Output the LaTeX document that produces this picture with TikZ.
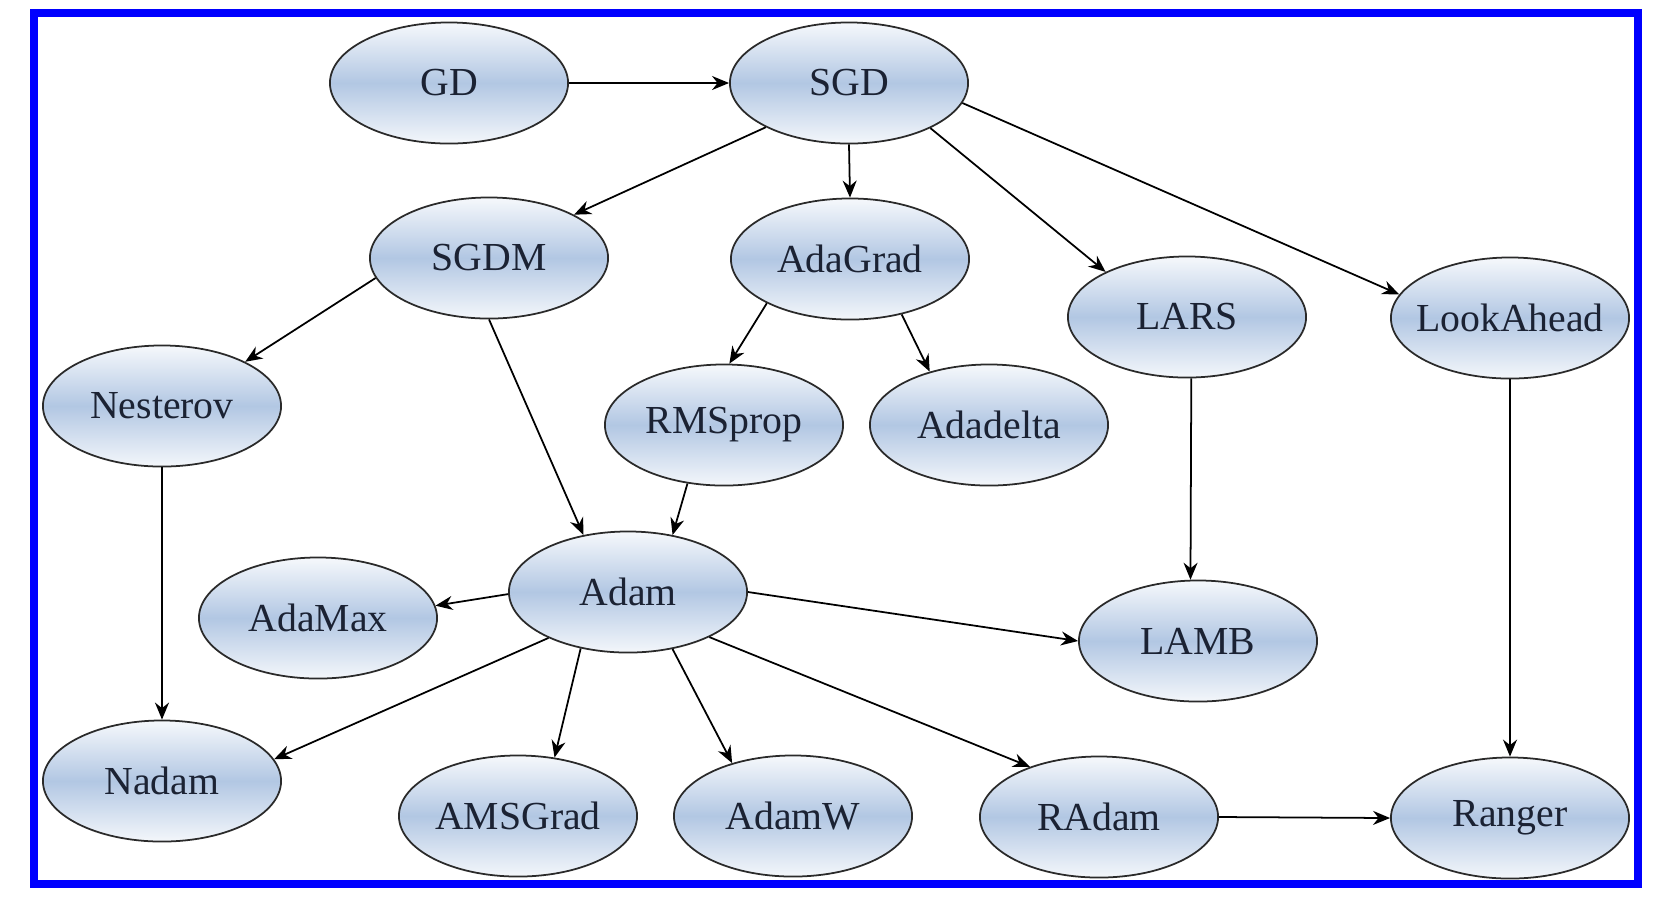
\documentclass[tikz,border=0pt]{standalone}
\usepackage{fontspec}
\setmainfont{Liberation Serif}
\usepackage{tikz}
\usetikzlibrary{arrows.meta,shapes.geometric}
\definecolor{OptBlue}{HTML}{B2C7E3}
\definecolor{OptInk}{HTML}{1B2233}
\definecolor{OptRule}{HTML}{2A2A2A}
\definecolor{FrameBlue}{HTML}{0000FF}
% keep the text from widening the ellipse
\newcommand{\optname}[1]{\makebox[0pt][c]{#1}}

\begin{document}
\begin{tikzpicture}[x=0.01cm,y=-0.01cm,
  opt/.style={ellipse,draw=OptRule,line width=0.5pt,inner sep=0pt,
    minimum width=2.38cm,minimum height=1.21cm,
    top color=OptBlue!12,bottom color=OptBlue!15,middle color=OptBlue,
    text=OptInk,font=\fontsize{11.3pt}{13pt}\selectfont},
  edge/.style={-{Stealth[length=1.7mm,width=1.4mm]},draw=black,line width=0.5pt},
  frame/.style={draw=FrameBlue,line width=0.08cm}
]
\useasboundingbox (0,0) rectangle (1670,899);
\draw[frame] (34,13) rectangle (1638,884);

\node[opt] (GD) at (449,83) {\optname{GD}};
\node[opt] (SGD) at (849,83) {\optname{SGD}};
\node[opt] (SGDM) at (489,258) {\optname{SGDM}};
\node[opt] (AdaGrad) at (850,259) {\optname{AdaGrad}};
\node[opt] (LARS) at (1187,317) {\optname{LARS}};
\node[opt] (LookAhead) at (1510,318) {\optname{LookAhead}};
\node[opt] (Nesterov) at (162,406) {\optname{Nesterov}};
\node[opt] (RMSprop) at (724,425) {\optname{RMSprop}};
\node[opt] (Adadelta) at (989,425) {\optname{Adadelta}};
\node[opt] (Adam) at (628,592) {\optname{Adam}};
\node[opt] (AdaMax) at (318,618) {\optname{AdaMax}};
\node[opt] (LAMB) at (1198,641) {\optname{LAMB}};
\node[opt] (Nadam) at (162,781) {\optname{Nadam}};
\node[opt] (AMSGrad) at (518,816) {\optname{AMSGrad}};
\node[opt] (AdamW) at (793,816) {\optname{AdamW}};
\node[opt] (RAdam) at (1099,817) {\optname{RAdam}};
\node[opt] (Ranger) at (1510,818) {\optname{Ranger}};

\draw[edge] (GD.east) -- (SGD.west);
\draw[edge] (SGD.208) -- (SGDM.27);
\draw[edge] (SGD.south) -- (AdaGrad.north);
\draw[edge] (SGD.331) -- (LARS.151);
\draw[edge] (SGD.350) -- (LookAhead.168);
\draw[edge] (SGDM.190) -- (Nesterov.28);
\draw[edge] (SGDM.south) -- (Adam.128);
\draw[edge] (AdaGrad.208) -- (RMSprop.85);
\draw[edge] (AdaGrad.313) -- (Adadelta.138);
\draw[edge] (RMSprop.238) -- (Adam.52);
\draw[edge] (LARS.274) -- (LAMB.97);
\draw[edge] (LookAhead.south) -- (Ranger.north);
\draw[edge] (Nesterov.south) -- (Nadam.north);
\draw[edge] (Adam.181) -- (AdaMax.6);
\draw[edge] (Adam.east) -- (LAMB.west);
\draw[edge] (Adam.210) -- (Nadam.11);
\draw[edge] (Adam.230) -- (AMSGrad.58);
\draw[edge] (Adam.308) -- (AdamW.139);
\draw[edge] (Adam.331) -- (RAdam.144);
\draw[edge] (RAdam.east) -- (Ranger.west);
\end{tikzpicture}
\end{document}
